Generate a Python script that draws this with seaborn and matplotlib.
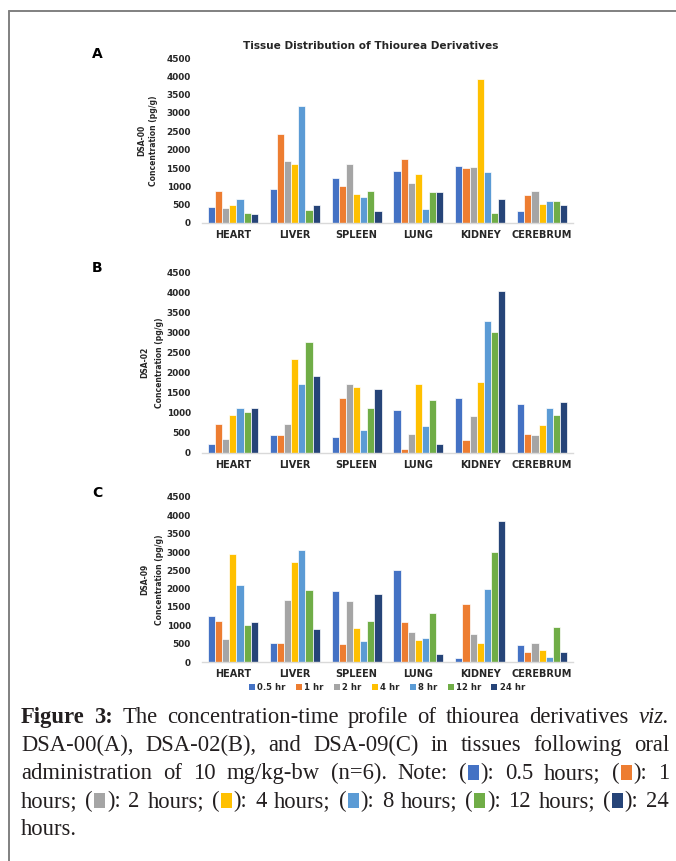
import matplotlib
matplotlib.use("Agg")
import matplotlib.pyplot as plt
import seaborn as sns
import pandas as pd
from matplotlib.patches import Patch, Rectangle
from matplotlib.lines import Line2D

# ---------------- data ----------------
tissues = ["HEART", "LIVER", "SPLEEN", "LUNG", "KIDNEY", "CEREBRUM"]
times = ["0.5 hr", "1 hr", "2 hr", "4 hr", "8 hr", "12 hr", "24 hr"]
colors = ["#4472C4", "#ED7D31", "#A5A5A5", "#FFC000", "#5B9BD5", "#70AD47", "#264478"]

# rows: tissues, columns: time points
dsa00 = [
    [440, 860, 400, 480, 650, 280, 250],
    [920, 2440, 1680, 1620, 3200, 360, 480],
    [1240, 1010, 1610, 790, 700, 860, 340],
    [1420, 1750, 1100, 1330, 390, 850, 840],
    [1560, 1500, 1540, 3930, 1400, 270, 660],
    [340, 760, 880, 530, 600, 590, 500],
]
dsa02 = [
    [220, 720, 340, 950, 1110, 1010, 1110],
    [440, 440, 720, 2340, 1720, 2770, 1910],
    [390, 1370, 1710, 1640, 580, 1130, 1580],
    [1070, 100, 480, 1710, 660, 1330, 220],
    [1360, 330, 920, 1770, 3270, 3010, 4030],
    [1210, 480, 440, 690, 1130, 950, 1260],
]
dsa09 = [
    [1250, 1130, 640, 2940, 2100, 1010, 1100],
    [520, 520, 1700, 2720, 3060, 1970, 910],
    [1930, 490, 1660, 930, 570, 1120, 1860],
    [2500, 1090, 810, 600, 660, 1340, 220],
    [110, 1590, 770, 510, 1980, 3010, 3840],
    [470, 260, 520, 340, 130, 950, 260],
]
yticks = [0, 500, 1000, 1500, 2000, 2500, 3000, 3500, 4000, 4500]
title = "Tissue Distribution of Thiourea Derivatives"

caption_lines = [
    "**Figure **3: The concentration-time profile of thiourea derivatives _viz.",
    "DSA-00(A), DSA-02(B), and DSA-09(C) in tissues following oral",
    "administration of 10 mg/kg-bw (n=6). Note: (@0): 0.5 hours; (@1): 1",
    "hours; (@2): 2 hours; (@3): 4 hours; (@4): 8 hours; (@5): 12 hours; (@6): 24",
    "hours.",
]

# ---------------- figure ----------------
sns.set_theme(style="white")
plt.rcParams["font.family"] = ["DejaVu Sans"]

W, H = 676, 861
fig = plt.figure(figsize=(W / 100, H / 100), dpi=100)


def fx(px):
    return px / W


def fy(py):
    return 1 - py / H


# frame lines
fig.add_artist(Line2D([fx(9), 1], [fy(11), fy(11)], color="#808080", lw=1.4))
fig.add_artist(Line2D([fx(9), fx(9)], [fy(11), 0], color="#808080", lw=1.4))

AX_L, AX_R = 202, 573
panels = [
    ("A", "DSA-00", dsa00, 58, 223, (142, 154), 54),
    ("B", "DSA-02", dsa02, 272, 453, (145, 159), 268),
    ("C", "DSA-09", dsa09, 497, 662, (145, 159), 493),
]

for letter, name, data, top, bot, labx, lety in panels:
    ax = fig.add_axes([fx(AX_L), fy(bot), (AX_R - AX_L) / W, (bot - top) / H])
    rows = []
    for ti, tis in enumerate(tissues):
        for hi, tm in enumerate(times):
            rows.append({"tissue": tis, "time": tm, "value": data[ti][hi]})
    df = pd.DataFrame(rows)
    sns.barplot(data=df, x="tissue", y="value", hue="time", order=tissues,
                hue_order=times, palette=colors, width=0.81, errorbar=None,
                edgecolor="white", linewidth=0.5, saturation=1, ax=ax,
                legend=False)
    ax.set_ylim(0, 4500)
    ax.set_xlim(-0.5, len(tissues) - 0.5)
    ax.set_yticks(yticks)
    ax.set_yticklabels([str(v) for v in yticks], fontsize=6.4,
                       fontweight="bold", color="#262626")
    ax.set_xticks(range(len(tissues)))
    ax.set_xticklabels(tissues, fontsize=7.0, fontweight="bold", color="#262626")
    ax.tick_params(axis="y", length=0, pad=8)
    ax.tick_params(axis="x", length=0, pad=5)
    ax.set_xlabel("")
    ax.set_ylabel("")
    for s in ["top", "right", "left"]:
        ax.spines[s].set_visible(False)
    ax.spines["bottom"].set_color("#D9D9D9")
    ax.spines["bottom"].set_linewidth(1.0)
    ax.grid(False)
    ax.set_facecolor("none")
    cy = fy((top + bot) / 2)
    fig.text(fx(labx[0]), cy, name, rotation=90, ha="center", va="center",
             fontsize=5.5, fontweight="bold", color="#262626")
    fig.text(fx(labx[1]), cy, "Concentration (pg/g)", rotation=90, ha="center",
             va="center", fontsize=5.5, fontweight="bold", color="#262626")
    fig.text(fx(97), fy(lety), letter, ha="center", va="center", fontsize=10,
             fontweight="bold", color="black")

fig.text(fx(371), fy(46), title, ha="center", va="center", fontsize=7.6,
         fontweight="bold", color="#262626")

handles = [Patch(facecolor=c, edgecolor="none", label=t) for c, t in zip(colors, times)]
fig.legend(handles=handles, loc="center", bbox_to_anchor=(fx(387), fy(687)),
           ncol=7, frameon=False, prop={"size": 6.1, "weight": "bold"},
           handlelength=0.7, handleheight=0.7, handletextpad=0.3,
           columnspacing=1.2, labelcolor="#262626")

# ---------------- caption (justified) ----------------
renderer = fig.canvas.get_renderer()
cap_family = ["Liberation Serif", "DejaVu Serif"]
cap_size = 16.3
cap_color = "#231f20"
BOX_W, BOX_H, BOX_M = 11, 15, 1.5


def make_props(style):
    p = dict(family=cap_family, fontsize=cap_size, color=cap_color)
    if style == "bold":
        p["fontweight"] = "bold"
    if style == "italic":
        p["fontstyle"] = "italic"
    return p


def word_segments(w):
    if w == "**Figure":
        return [("text", "Figure", "bold")]
    if w.startswith("**"):
        return [("text", w.replace("*", ""), "bold")]
    if w.startswith("_"):
        return [("text", w[1:], "italic")]
    if "@" in w:
        pre, rest = w.split("@")
        idx = int(rest[0])
        post = rest[1:]
        return [("text", pre, "normal"), ("box", idx), ("text", post, "normal")]
    return [("text", w, "normal")]


def seg_width(seg):
    if seg[0] == "box":
        return BOX_W + 2 * BOX_M
    t = fig.text(0, 0, seg[1], **make_props(seg[2]))
    w = t.get_window_extent(renderer).width
    t.remove()
    return w


space_w = seg_width(("text", "a a", "normal")) - seg_width(("text", "aa", "normal"))
LEFT, RIGHT = 21, 669
BASE0, STEP = 723, 28

for li, line in enumerate(caption_lines):
    words = []
    for w in line.split(" "):
        if w == "":
            continue
        if w == "3:" and li == 0:
            words.append([("text", "3:", "bold")])
        else:
            words.append(word_segments(w))
    widths = [[seg_width(s) for s in wd] for wd in words]
    totals = [sum(ws) for ws in widths]
    last = li == len(caption_lines) - 1
    if last or len(words) < 2:
        gap = space_w
    else:
        gap = max(space_w * 0.6, (RIGHT - LEFT - sum(totals)) / (len(words) - 1))
    x = LEFT
    base = BASE0 + li * STEP
    for wd, ws in zip(words, widths):
        for seg, sw in zip(wd, ws):
            if seg[0] == "box":
                fig.add_artist(Rectangle((fx(x + BOX_M), fy(base + 1)), BOX_W / W,
                                         BOX_H / H, facecolor=colors[seg[1]],
                                         edgecolor="none",
                                         transform=fig.transFigure))
            else:
                fig.text(fx(x), fy(base), seg[1], ha="left", va="baseline",
                         **make_props(seg[2]))
            x += sw
        x += gap

fig.savefig("out.png", dpi=100)
